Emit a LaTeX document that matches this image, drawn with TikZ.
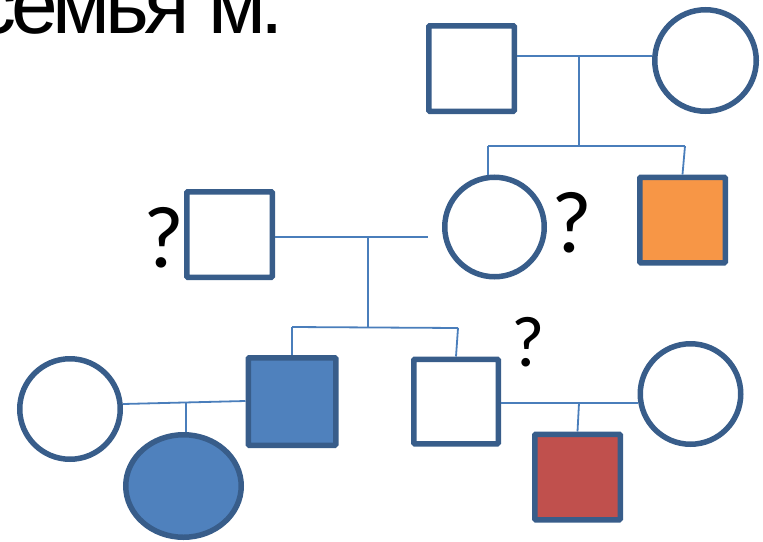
\documentclass[tikz,border=0pt]{standalone}
\usepackage{fontspec}
\usetikzlibrary{shapes.geometric}
\newfontfamily\qfont{Carlito}
\newfontfamily\tfont[LetterSpace=-6]{Liberation Sans}
\definecolor{outl}{HTML}{385D8A}
\definecolor{conn}{HTML}{4A7EBB}
\definecolor{fblue}{HTML}{4F81BD}
\definecolor{forange}{HTML}{F79646}
\definecolor{fred}{HTML}{C0504D}
\tikzset{
  male/.style={draw=outl, line width=5.5pt, rectangle, minimum size=85.5pt, inner sep=0pt, fill=white, rounded corners=1pt},
  female/.style={draw=outl, line width=5.5pt, circle, minimum size=100.5pt, inner sep=0pt, fill=white},
  conline/.style={draw=conn, line width=1.8pt},
  qmark/.style={font=\qfont\fontsize{88}{88}\selectfont, inner sep=0pt, text=black},
}
\begin{document}
\begin{tikzpicture}[x=1pt,y=-1pt]
\useasboundingbox (0,0) rectangle (763,541);
\clip (0,0) rectangle (763,541);
% title fragment
\node[anchor=base west, inner sep=0pt, font=\tfont\fontsize{84}{84}\selectfont] (title) at (-26,33) {семья м.};
% coordinates
\coordinate (m1) at (579,56);
\coordinate (s1) at (579,146);
\coordinate (c1) at (488,146);
\coordinate (c2) at (685,146);
\coordinate (m2) at (368,237);
\coordinate (e2) at (428,237);
\coordinate (s2) at (368,327);
\coordinate (c3) at (292,327);
\coordinate (c4) at (458,328);
\coordinate (m3) at (186,403);
\coordinate (m4) at (579,403);
% people
\node[male] (gf) at (471.5,68.5) {};
\node[female, minimum size=101.5pt] (gm) at (705.5,60.5) {};
\node[female, minimum size=99.5pt] (d) at (494.5,227) {};
\node[male, fill=forange] (o) at (682.5,220) {};
\node[male] (f) at (229.5,234.5) {};
\node[male, minimum size=87.5pt, fill=fblue] (b) at (292,401.5) {};
\node[female] (w) at (70,409) {};
\node[draw=outl, line width=5.5pt, ellipse, minimum width=115.5pt, minimum height=102.5pt, inner sep=0pt, fill=fblue] (bd) at (183.5,486) {};
\node[male, minimum size=84.5pt] (ws) at (456,401.5) {};
\node[male, fill=fred] (r) at (577.5,477) {};
\node[female] (rc) at (690.5,394) {};
% connectors
\draw[conline] (gf.east |- m1) -- (gm.west |- m1);
\draw[conline] (m1) -- (s1);
\draw[conline] (c1) -- (c2);
\draw[conline] (c1) -- (c1 |- d.north);
\draw[conline] (c2) -- (o.north);
\draw[conline] (f.east |- m2) -- (e2);
\draw[conline] (m2) -- (s2);
\draw[conline] (c3) -- (c4);
\draw[conline] (c3) -- (b.north);
\draw[conline] (c4) -- (ws.north);
\draw[conline] (w.east |- 0,404) -- (b.west |- 0,401);
\draw[conline] (m3) -- (m3 |- bd.north);
\draw[conline] (ws.east |- m4) -- (rc.west |- m4);
\draw[conline] (m4) -- (r.north);
% question marks
\node[qmark] (q1) at (164,238) {?};
\node[qmark] (q2) at (572,223) {?};
\node[qmark, font=\qfont\fontsize{72}{72}\selectfont] (q3) at (528,342) {?};
\end{tikzpicture}
\end{document}
